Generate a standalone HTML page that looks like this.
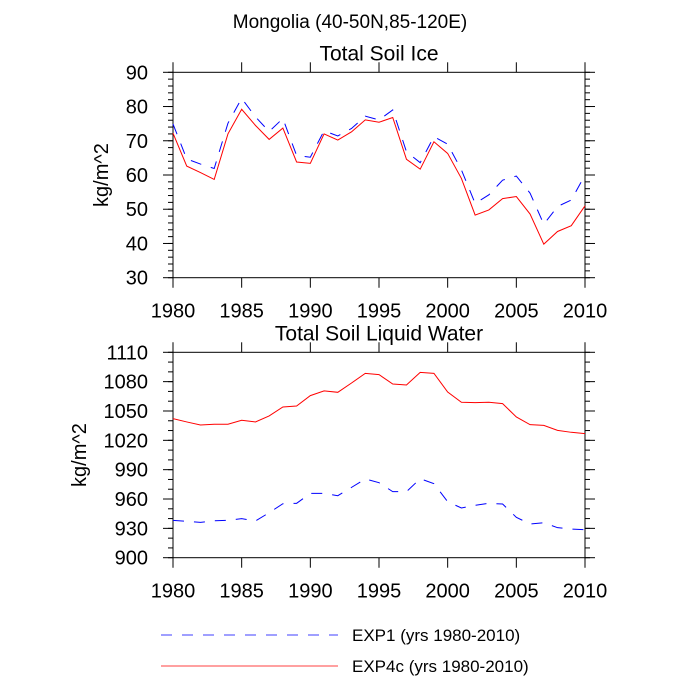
<!DOCTYPE html>
<html><head><meta charset="utf-8"><style>
body{margin:0;background:#fff;}
svg{display:block;font-family:"Liberation Sans",sans-serif;}
</style></head><body>
<svg id="chart" width="700" height="700">
<text x="350" y="28" text-anchor="middle" font-size="19">Mongolia (40-50N,85-120E)</text>
<g id="p1"></g>
<g id="p2"></g>
<g>
<line x1="161" y1="635" x2="338" y2="635" stroke="#0000ff" stroke-width="0.8" stroke-dasharray="11,10"/>
<text x="352" y="641" font-size="17">EXP1 (yrs 1980-2010)</text>
<line x1="161" y1="666" x2="338" y2="666" stroke="#ff0000" stroke-width="0.8"/>
<text x="352" y="672" font-size="17">EXP4c (yrs 1980-2010)</text>
</g>
</svg>
<script>
const years=[];for(let y=1980;y<=2010;y++)years.push(y);
const iceExp1=[74.9,64.7,63.2,61.9,75.1,82.4,77.0,72.7,76.5,65.7,65.2,72.9,71.4,73.6,77.2,76.1,79.0,66.8,63.6,71.2,69.0,61.5,51.7,54.2,58.5,59.7,54.7,45.6,50.8,52.7,60.0];
const iceExp4c=[72.2,62.6,60.7,58.7,72.0,79.2,74.5,70.4,73.7,63.8,63.4,72.0,70.2,72.6,76.1,75.4,76.8,64.6,61.7,69.7,66.3,59.0,48.3,49.8,53.1,53.7,48.6,39.8,43.5,45.2,51.0];
const liqExp1=[938.2,937.2,936.1,937.8,938.2,939.9,937.5,946.0,955.2,955.6,965.8,965.8,963.4,971.9,980.5,976.7,967.5,967.5,980.8,975.7,957.3,950.8,953.5,955.6,954.9,941.3,934.4,935.8,930.7,929.3,928.6];
const liqExp4c=[1042.2,1038.8,1035.7,1036.4,1036.4,1040.5,1038.8,1044.9,1054.1,1055.1,1065.7,1070.5,1069.1,1078.6,1088.5,1087.2,1077.6,1076.6,1089.5,1088.5,1069.4,1058.9,1058.5,1058.9,1057.5,1043.9,1036.0,1035.3,1030.2,1028.2,1026.8];
const xTicks=[1980,1985,1990,1995,2000,2005,2010];
const iceTicks=[30,40,50,60,70,80,90];
const liqTicks=[900,930,960,990,1020,1050,1080,1110];
const NS="http://www.w3.org/2000/svg";
function mk(parent,tag,attrs){const e=document.createElementNS(NS,tag);for(const k in attrs)e.setAttribute(k,attrs[k]);parent.appendChild(e);return e;}
function panel(g,top,bottom,ymin,ymax,ticks,minorStep,title,s1,s2,ytx){
  const L=173,R=585;
  const X=v=>L+(v-1980)/30*(R-L);
  const Y=v=>bottom-(v-ymin)/(ymax-ymin)*(bottom-top);
  const f=mk(g,'rect',{x:L,y:top,width:R-L,height:bottom-top,fill:'none',stroke:'#000','stroke-width':1});
  
  
  for(let v=ymin;v<=ymax+1e-6;v+=minorStep){
    const y=Y(v);
    mk(g,'line',{x1:L-5,y1:y,x2:L,y2:y,stroke:'#000'});
    mk(g,'line',{x1:R,y1:y,x2:R+5,y2:y,stroke:'#000'});
  }
  ticks.forEach(v=>{const y=Y(v);
    mk(g,'line',{x1:L-10,y1:y,x2:L,y2:y,stroke:'#000'});
    mk(g,'line',{x1:R,y1:y,x2:R+10,y2:y,stroke:'#000'});
    const t=mk(g,'text',{x:148,y:y+7,'text-anchor':'end','font-size':20});t.textContent=v;
    
    
  });
  xTicks.forEach(v=>{const x=X(v);
    mk(g,'line',{x1:x,y1:bottom,x2:x,y2:bottom+10,stroke:'#000'});
    mk(g,'line',{x1:x,y1:top-10,x2:x,y2:top,stroke:'#000'});
    const t=mk(g,'text',{x:x,y:bottom+40,'text-anchor':'middle','font-size':20});t.textContent=v;
    
    
  });
  const tt=mk(g,'text',{x:379,y:top-12,'text-anchor':'middle','font-size':21});tt.textContent=title;
  
  
  const yt=mk(g,'text',{x:ytx,y:(top+bottom)/2,'text-anchor':'middle','font-size':20,transform:`rotate(-90 ${ytx} ${(top+bottom)/2})`});yt.textContent='kg/m^2';
  
  
  const p1=mk(g,'polyline',{points:s1.map((v,i)=>X(years[i])+','+Y(v)).join(' '),fill:'none',stroke:'#0000ff','stroke-dasharray':'11,10'});
  
  
  const p2=mk(g,'polyline',{points:s2.map((v,i)=>X(years[i])+','+Y(v)).join(' '),fill:'none',stroke:'#ff0000'});
  
  
}
panel(document.getElementById('p1'),72.3,277.7,30,90,iceTicks,2,'Total Soil Ice',iceExp1,iceExp4c,108);
panel(document.getElementById('p2'),352.3,557.7,900,1110,liqTicks,10,'Total Soil Liquid Water',liqExp1,liqExp4c,86);
</script>
</body></html>
